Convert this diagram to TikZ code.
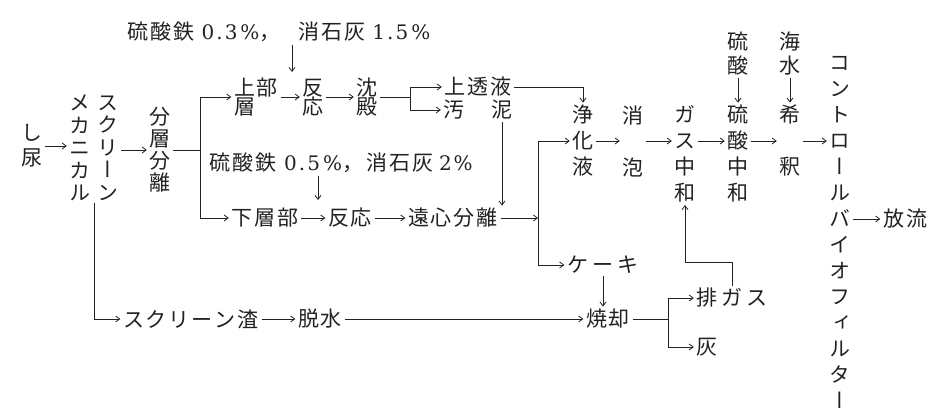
\documentclass[tikz,border=0pt]{standalone}
\usepackage{fontspec}
\newfontfamily\cjk{Noto Sans CJK JP}
\newfontfamily\cjkv[RawFeature=+vert]{Noto Sans CJK JP}
\newfontfamily\lat{DejaVu Serif}
\usetikzlibrary{arrows.meta,calc}
\definecolor{ink}{HTML}{222222}
\newcommand\kk{\kern2pt}
\newcommand\dg[1]{{\lat\fontsize{20}{22}\selectfont #1}}
\lineskiplimit=-30pt
\begin{document}
\begin{tikzpicture}[x=1pt,y=-1pt,
  every node/.style={inner sep=2.5pt, text=ink},
  lbl/.style={font=\cjk\fontsize{21}{24}\selectfont},
  vshin/.style={font=\cjkv\fontsize{21}{25}\selectfont, align=center},
  vcol/.style={font=\cjkv\fontsize{21}{22.5}\selectfont, align=center},
  vcolb/.style={font=\cjkv\fontsize{21}{22}\selectfont, align=center},
  vcolm/.style={font=\cjkv\fontsize{21}{24}\selectfont, align=center},
  vcolw/.style={font=\cjkv\fontsize{21}{26}\selectfont, align=center},
  vtight/.style={font=\cjk\fontsize{21}{19}\selectfont, align=left},
  flow/.style={draw=ink, line width=0.8pt, -{Straight Barb[length=4pt,width=6pt]}},
  wire/.style={draw=ink, line width=0.8pt},
]
\fill[white] (0,0) rectangle (938,414);
\useasboundingbox (0,0) rectangle (938,414);

% left part
\node[vshin] (shinyo) at (32,146) {し\\尿};
\node[vcol] (mech) at (80,148) {メ\\カ\\ニ\\カ\\ル};
\node[vcol] (scr) at (108,148) {ス\\ク\\リ\\ー\\ン};
\node[vcolb] (bunri) at (160,150) {分\\層\\分\\離};
\draw[flow] (shinyo) -- (mech.west |- shinyo);
\draw[flow] (scr.east |- bunri) -- (bunri.west);

\coordinate (b1top) at (200,97);
\coordinate (b1bot) at (200,218);
\draw[wire] (bunri.east) -- (bunri.east -| b1top);
\draw[wire] (b1top) -- (b1bot);

% upper branch
\node[lbl] (add1) at (279,32) {硫\kk 酸\kk 鉄\kern7pt\dg{0\kern2pt.\kern2pt3\kern3pt\%}，\kern18pt 消\kk 石\kk 灰\kern7pt\dg{1\kern2pt.\kern2pt5\kern3pt\%}};
\coordinate (d1) at (292,72);
\draw[flow] (add1.south -| d1) -- (d1);

\node[vtight] (joubu) at (256,97.5) {上\kk 部\\層};
\node[vtight, align=center] (han1) at (313,97.5) {反\\応};
\node[vtight, align=center] (chin) at (367,97.5) {沈\\殿};
\draw[flow] (b1top) -- (b1top -| joubu.west);
\draw[flow] (joubu.east |- b1top) -- (han1.west |- b1top);
\draw[flow] (han1.east |- b1top) -- (chin.west |- b1top);

\coordinate (b2top) at (410,87);
\coordinate (b2bot) at (410,110);
\draw[wire] (chin.east |- b1top) -- (b1top -| b2top);
\draw[wire] (b2top) -- (b2bot);
\node[lbl] (joutou) at (478,87) {上\kk 透\kk 液};
\node[lbl] (oo) at (454,110) {汚};
\node[lbl] (dei) at (502,110) {泥};
\draw[flow] (b2top) -- (joutou.west);
\draw[flow] (b2bot) -- (oo.west);

% lower branch
\node[lbl] (add2) at (341,163) {硫\kk 酸\kk 鉄\kern8pt\dg{0\kern2pt.\kern2pt5\kern3pt\%}，\kern3pt 消\kk 石\kk 灰\kern6pt\dg{2\kern2pt\%}};
\coordinate (d2) at (318,200);
\draw[flow] (add2.south -| d2) -- (d2);

\node[lbl] (kasou) at (265,218) {下\kk 層\kk 部};
\node[lbl] (han2) at (350,218) {反\kk 応};
\node[lbl] (enshin) at (453,218) {遠\kk 心\kk 分\kk 離};
\draw[flow] (b1bot) -- (kasou.west);
\draw[flow] (kasou) -- (han2);
\draw[flow] (han2) -- (enshin);
\draw[flow] (dei.south) -- (dei.south |- enshin.north);

\coordinate (v2top) at (538,141);
\coordinate (v2bot) at (538,265);
\draw[flow] (enshin.east) -- (enshin.east -| v2top);
\draw[wire] (v2top) -- (v2bot);

% main line
\coordinate (mainrow) at (0,141);
\node[vcolw] (joka) at (583,141) {浄\\化\\液};
\draw[flow] (joutou.east) -| (joka.north);
\draw[flow] (v2top) -- (joka.west |- v2top);
\node[vcolw] (shoho) at (633,141) {消\\\phantom{泡}\\泡};
\draw[flow] (joka.east |- mainrow) -- (shoho.west |- mainrow);
\node[vcolw] (gaschuwa) at (685,154) {ガ\\ス\\中\\和};
\draw[flow] (shoho.east |- mainrow) -- (gaschuwa.west |- mainrow);
\node[vcolm] (ryusan) at (738,54) {硫\\酸};
\node[vcolw] (ryusanchuwa) at (738,154) {硫\\酸\\中\\和};
\draw[flow] (ryusan) -- (ryusanchuwa);
\draw[flow] (gaschuwa.east |- mainrow) -- (ryusanchuwa.west |- mainrow);
\node[vcolm] (kaisui) at (790,54) {海\\水};
\node[vcolw] (kiseki) at (790,141) {希\\\phantom{釈}\\釈};
\draw[flow] (kaisui) -- (kiseki);
\draw[flow] (ryusanchuwa.east |- mainrow) -- (kiseki.west |- mainrow);
\node[vcolw] (kontrol) at (840,232) {コ\\ン\\ト\\ロ\\ー\\ル\\バ\\イ\\オ\\フ\\ィ\\ル\\タ\\ー};
\draw[flow] (kiseki.east |- mainrow) -- (kontrol.west |- mainrow);
\node[lbl] (houryu) at (905,219) {放\kk 流};
\draw[flow] (kontrol.east |- houryu) -- (houryu.west);

% bottom part
\coordinate (mid) at ($(mech.south)!0.5!(scr.south)$);
\node[lbl] (zasa) at (191,319) {ス\kk ク\kk リ\kk ー\kk ン\kk 渣};
\node[lbl] (dassui) at (320,319) {脱\kk 水};
\draw[flow] (mid) |- (zasa.west);
\draw[flow] (zasa) -- (dassui);
\node[lbl] (cake) at (603,265) {ケ\kern4.5pt ー\kern4.5pt キ};
\draw[flow] (v2bot) -- (cake.west);
\node[lbl] (shokyaku) at (608,319) {焼\kk 却};
\draw[flow] (dassui) -- (shokyaku);
\draw[flow] (cake.south) -- (cake.south |- shokyaku.north);

\coordinate (b3top) at (668,298);
\coordinate (b3bot) at (668,347);
\draw[wire] (shokyaku.east) -- (shokyaku.east -| b3top);
\draw[wire] (b3top) -- (b3bot);
\node[lbl] (haigas) at (732,298) {排\kern4pt ガ\kern4pt ス};
\node[lbl] (hai) at (707,347) {灰};
\draw[flow] (b3top) -- (haigas.west);
\draw[flow] (b3bot) -- (hai.west);
\coordinate (gasturn) at (733,262);
\draw[flow] (haigas.north) -- (haigas.north |- gasturn) -| (gaschuwa.south);
\end{tikzpicture}
\end{document}
